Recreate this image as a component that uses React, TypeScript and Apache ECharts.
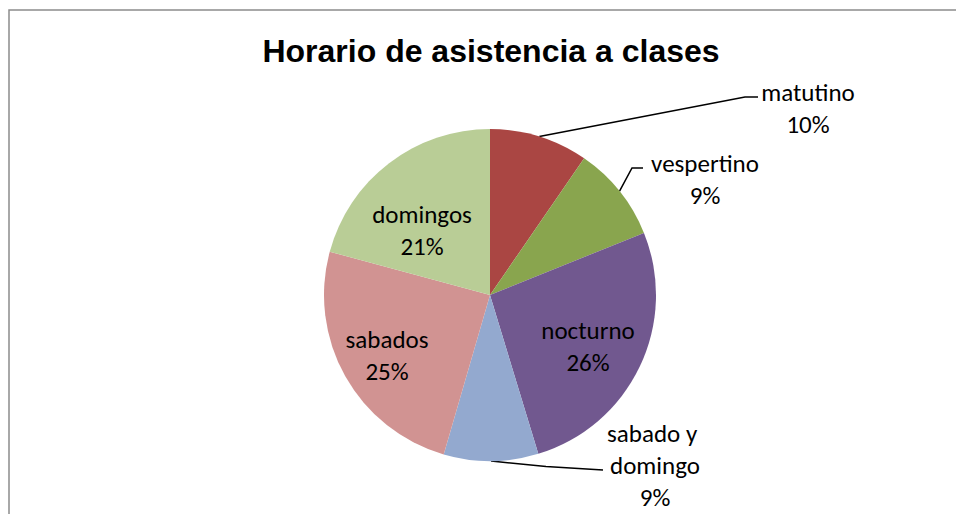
import React, { useEffect, useRef } from "react";
import * as echarts from "echarts";

const titleText = "Horario de asistencia a clases";
const categories = ["matutino", "vespertino", "nocturno", "sabado y domingo", "sabados", "domingos"];
const values = [9.6, 9.3, 26.4, 9.2, 24.7, 20.8];
const colors = ["#AA4643", "#89A54E", "#71588F", "#93A9CF", "#D19392", "#B9CD96"];
const outsideLabel = [true, true, false, true, false, false];

// layout: label block centres and leader line bend/end points
const labelCenters: number[][] = [
  [808, 108],
  [705, 179],
  [588, 346],
  [655, 465],
  [387, 355],
  [422, 230],
];
const leaderPoints: (number[][] | null)[] = [
  [[745, 97], [758, 97]],
  [[632, 168], [643, 168]],
  null,
  [[546, 466.5], [603, 470]],
  null,
  null,
];

const labelFont = "Carlito, Calibri, Lato, sans-serif";

export default function App() {
  const ref = useRef<HTMLDivElement>(null);
  useEffect(() => {
    if (!ref.current) return;
    const chart = echarts.init(ref.current, undefined, { renderer: "svg" });
    const data = categories.map((name, i) => ({
      name,
      value: values[i],
      itemStyle: { color: colors[i] },
      label: outsideLabel[i]
        ? { position: "outside" as const }
        : { position: "inside" as const },
      labelLine: { show: outsideLabel[i] },
    }));
    chart.setOption({
      animation: false,
      backgroundColor: "#ffffff",
      graphic: [
        {
          type: "rect",
          shape: { x: 9, y: 10, width: 1000, height: 600 },
          style: { fill: "none", stroke: "#8c8c8c", lineWidth: 1.5 },
          silent: true,
        },
        {
          type: "text",
          x: 491,
          y: 51,
          style: {
            text: titleText,
            align: "center",
            verticalAlign: "middle",
            fontFamily: "'Liberation Sans', Arial, sans-serif",
            fontWeight: "bold",
            fontSize: 32,
            fill: "#000000",
          },
        },
      ],
      series: [
        {
          type: "pie",
          center: [490, 295],
          radius: 166,
          startAngle: 90,
          clockwise: true,
          avoidLabelOverlap: false,
          percentPrecision: 0,
          data,
          itemStyle: { borderWidth: 0 },
          emphasis: { disabled: true },
          label: {
            show: true,
            formatter: "{b}\n{d}%",
            color: "#000000",
            fontFamily: labelFont,
            fontSize: 25,
            lineHeight: 32,
            width: 130,
            overflow: "break",
            align: "center",
          },
          labelLine: {
            show: true,
            lineStyle: { color: "#000000", width: 1.5 },
          },
          labelLayout: (params: any) => {
            const i = params.dataIndex;
            const c = labelCenters[i];
            const out: any = { x: c[0], y: c[1], align: "center", verticalAlign: "middle" };
            const lp = leaderPoints[i];
            if (lp && params.labelLinePoints) {
              const start = params.labelLinePoints[0];
              out.labelLinePoints = [[start[0], start[1]], lp[0], lp[1]];
            }
            return out;
          },
        },
      ],
    });
    return () => chart.dispose();
  }, []);
  return (
    <div
      ref={ref}
      style={{ position: "fixed", left: 0, top: 0, width: 956, height: 514 }}
    />
  );
}
